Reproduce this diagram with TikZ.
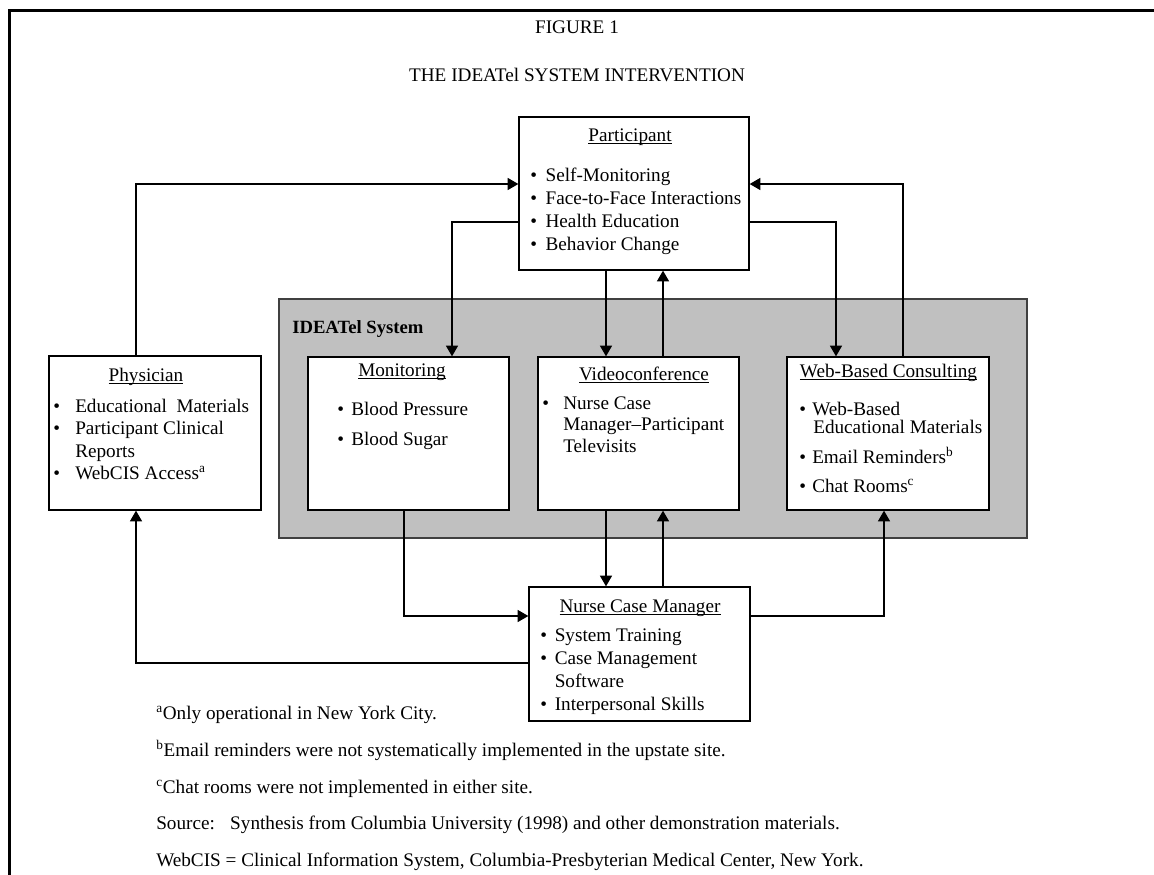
\documentclass[tikz,border=0pt]{standalone}
\usepackage{fontspec}
\setmainfont{Liberation Serif}
\usetikzlibrary{arrows.meta}
\definecolor{sysgray}{RGB}{192,192,192}
\definecolor{sysedge}{RGB}{64,64,64}
\newcommand\fs{\fontsize{14.4}{17.25}\selectfont}
\newcommand\bul[1]{\makebox[#1][l]{\textbullet}}
\newcommand\undl[1]{\setbox0\hbox{#1}\rlap{\rule[-2.4pt]{\wd0}{0.9pt}}\box0}
\begin{document}
\begin{tikzpicture}[x=0.75pt,y=-0.75pt,
  box/.style={draw,line width=1pt,fill=white,inner sep=0pt},
  conn/.style={line width=1pt},
  arr/.style={conn,-{Triangle[length=8pt,width=9pt]}},
  txt/.style={anchor=base west,inner sep=0pt,font=\fs},
  ttl/.style={anchor=base,inner sep=0pt,font=\fs}]
\useasboundingbox (0,0) rectangle (1154,875);

% page frame (left and top rules)
\draw[line width=2.25pt] (9.5,875) -- (9.5,10.5) -- (1154,10.5);

% headings
\node[ttl] (fig) at (577,33) {FIGURE 1};
\node[ttl] (head) at (577,81) {THE IDEATel SYSTEM INTERVENTION};

% IDEATel system panel
\node[draw=sysedge,line width=1.3pt,fill=sysgray,inner sep=0pt,
      minimum width=561pt,minimum height=179.25pt] (sys) at (653,418.5) {};
\node[txt,font=\fontsize{14}{17}\selectfont\bfseries] (sysT) at (292,333) {IDEATel System};

% boxes
\node[box,minimum width=172.5pt,minimum height=114.75pt] (part) at (634,193.5) {};
\node[box,minimum width=159pt,minimum height=115.5pt] (phys) at (155,433) {};
\node[box,minimum width=150.75pt,minimum height=114.75pt] (mon) at (408.5,433.5) {};
\node[box,minimum width=150.75pt,minimum height=114.75pt] (vid) at (638.5,433.5) {};
\node[box,minimum width=151.5pt,minimum height=114.75pt] (web) at (888,433.5) {};
\node[box,minimum width=165.75pt,minimum height=100.5pt] (ncm) at (639.5,654) {};

% Participant
\node[ttl] (partT) at (630,141) {\undl{Participant}};
\node[txt] (part1) at (530,181) {\bul{11.5pt}Self-Monitoring};
\node[txt] (part2) at (530,204) {\bul{11.5pt}Face-to-Face Interactions};
\node[txt] (part3) at (530,227) {\bul{11.5pt}Health Education};
\node[txt] (part4) at (530,250) {\bul{11.5pt}Behavior Change};

% Physician
\node[ttl] (physT) at (146,381) {\undl{Physician}};
\node[txt] (phys1) at (53,412) {\bul{16.5pt}Educational\ \ Materials};
\node[txt] (phys2) at (53,434) {\bul{16.5pt}Participant Clinical};
\node[txt] (phys3) at (75,457) {Reports};
\node[txt] (phys4) at (53,479) {\bul{16.5pt}WebCIS Access\textsuperscript{a}};

% Monitoring
\node[ttl] (monT) at (402,376) {\undl{Monitoring}};
\node[txt] (mon1) at (337,415) {\bul{10.5pt}Blood Pressure};
\node[txt] (mon2) at (337,445) {\bul{10.5pt}Blood Sugar};

% Videoconference
\node[ttl] (vidT) at (644,380) {\undl{Videoconference}};
\node[txt] (vid1) at (542,409) {\bul{15.75pt}Nurse Case};
\node[txt] (vid2) at (563,430) {Manager–Participant};
\node[txt] (vid3) at (563,452) {Televisits};

% Web-based consulting
\node[ttl] (webT) at (888.5,377) {\undl{Web-Based Consulting}};
\node[txt] (web1) at (799,415) {\bul{9.75pt}Web-Based};
\node[txt] (web2) at (813,433) {Educational Materials};
\node[txt] (web3) at (799,463) {\bul{9.75pt}Email Reminders\textsuperscript{b}};
\node[txt] (web4) at (799,492) {\bul{9.75pt}Chat Rooms\textsuperscript{c}};

% Nurse case manager
\node[ttl] (ncmT) at (640,612) {\undl{Nurse Case Manager}};
\node[txt] (ncm1) at (540,641) {\bul{10.9pt}System Training};
\node[txt] (ncm2) at (540,664) {\bul{10.9pt}Case Management};
\node[txt] (ncm3) at (554.5,687) {Software};
\node[txt] (ncm4) at (540,710) {\bul{10.9pt}Interpersonal Skills};

% notes
\node[txt] (noteA) at (156,719) {\textsuperscript{a}Only operational in New York City.};
\node[txt] (noteB) at (156,756) {\textsuperscript{b}Email reminders were not systematically implemented in the upstate site.};
\node[txt] (noteC) at (156,793) {\textsuperscript{c}Chat rooms were not implemented in either site.};
\node[txt] (noteS) at (156,829) {Source:\hspace{11.5pt}Synthesis from Columbia University (1998) and other demonstration materials.};
\node[txt] (noteW) at (156,866) {WebCIS = Clinical Information System, Columbia-Presbyterian Medical Center, New York.};

% routing columns and rows of the connectors
\coordinate (kL) at (136,184);
\coordinate (kR) at (903,184);
\coordinate (kM) at (452,222);
\coordinate (kW) at (836,222);
\coordinate (kV1) at (606,0);
\coordinate (kV2) at (663,0);
\coordinate (kB1) at (404,616);
\coordinate (kB2) at (884,616);
\coordinate (kB3) at (136,663);

% connectors
\draw[arr] (phys.north -| kL) |- (part.west |- kL);
\draw[arr] (web.north -| kR) |- (part.east |- kR);
\draw[arr] (part.west |- kM) -| (mon.north -| kM);
\draw[arr] (part.east |- kW) -| (web.north -| kW);
\draw[arr] (part.south -| kV1) -- (vid.north -| kV1);
\draw[arr] (vid.north -| kV2) -- (part.south -| kV2);
\draw[arr] (vid.south -| kV1) -- (ncm.north -| kV1);
\draw[arr] (ncm.north -| kV2) -- (vid.south -| kV2);
\draw[arr] (mon.south -| kB1) |- (ncm.west |- kB1);
\draw[arr] (ncm.east |- kB2) -| (web.south -| kB2);
\draw[arr] (ncm.west |- kB3) -| (phys.south -| kB3);
\end{tikzpicture}
\end{document}
